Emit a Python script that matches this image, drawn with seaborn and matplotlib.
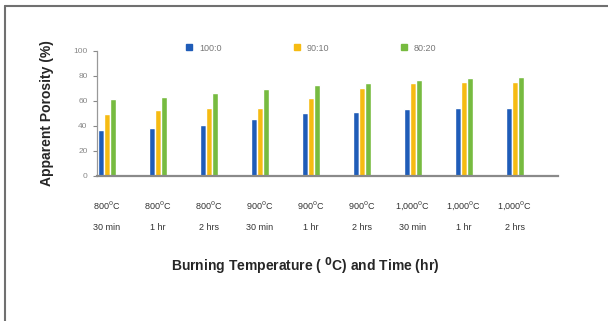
import pandas as pd
import matplotlib.pyplot as plt
import seaborn as sns
from matplotlib.lines import Line2D

# Data
conditions = ["800$^{0}$C\n30 min", "800$^{0}$C\n1 hr", "800$^{0}$C\n2 hrs",
              "900$^{0}$C\n30 min", "900$^{0}$C\n1 hr", "900$^{0}$C\n2 hrs",
              "1,000$^{0}$C\n30 min", "1,000$^{0}$C\n1 hr", "1,000$^{0}$C\n2 hrs"]
mix_100_0 = [36.5, 38, 40.5, 45, 50.5, 51, 53, 54, 54.5]
mix_90_10 = [49, 52.5, 54.5, 54.5, 62.5, 70.5, 74, 75, 75]
mix_80_20 = [61, 63, 66, 69, 72.5, 74, 76.5, 78, 79]
series_names = ["100:0", "90:10", "80:20"]
colors = ["#1f5cb8", "#f6bb12", "#77bb40"]

df = pd.DataFrame({
    "condition": conditions * 3,
    "mix": [s for s in series_names for _ in conditions],
    "value": mix_100_0 + mix_90_10 + mix_80_20,
})

sns.set_style("white")
plt.rcParams['font.family'] = ['Liberation Sans', 'DejaVu Sans']

fig = plt.figure(figsize=(6.08, 3.21), dpi=100)
ax = fig.add_axes([0.160, 0.453, 0.758, 0.389])

sns.barplot(data=df, x="condition", y="value", hue="mix", order=conditions,
            hue_order=series_names, palette=colors, width=0.36, gap=0,
            saturation=1, ax=ax, legend=False)

ax.set_ylim(0, 100)
ax.set_xlim(-0.19, 8.85)
ax.set_yticks([0, 20, 40, 60, 80, 100])
ax.tick_params(axis='y', labelsize=6, colors='#888888', length=3, width=0.8, direction='out', left=True, pad=4)
ax.tick_params(axis='x', labelsize=6.5, colors='#333333', length=0, pad=17)
for lab in ax.get_xticklabels():
    lab.set_linespacing(2.6)
for s in ['top', 'right']:
    ax.spines[s].set_visible(False)
ax.spines['left'].set_color('#999999')
ax.spines['left'].set_linewidth(0.9)
ax.spines['bottom'].set_color('#8a8a8a')
ax.spines['bottom'].set_linewidth(1.6)

ax.set_ylabel("Apparent Porosity (%)", fontsize=10, fontweight='bold', labelpad=14)
ax.set_xlabel("Burning Temperature ( $^{\\mathbf{0}}$C) and Time (hr)", fontsize=10,
              fontweight='bold')
ax.xaxis.set_label_coords(0.451, -0.64)

handles = [Line2D([], [], marker='s', linestyle='', markersize=5, color=c) for c in colors]
leg = ax.legend(handles, series_names, ncol=3, frameon=False, fontsize=6.5,
                loc='lower left', bbox_to_anchor=(0.172, 0.92), columnspacing=7.8,
                handletextpad=0.6, handlelength=1)
for t in leg.get_texts():
    t.set_color('#777777')

# thin frame lines on top and left edges of the figure
fig.add_artist(Line2D([0.009, 1.0], [0.98, 0.98], transform=fig.transFigure, color='#707070', lw=1.5))
fig.add_artist(Line2D([0.009, 0.009], [0.0, 0.98], transform=fig.transFigure, color='#707070', lw=1.5))

fig.savefig("out.png", dpi=100)
